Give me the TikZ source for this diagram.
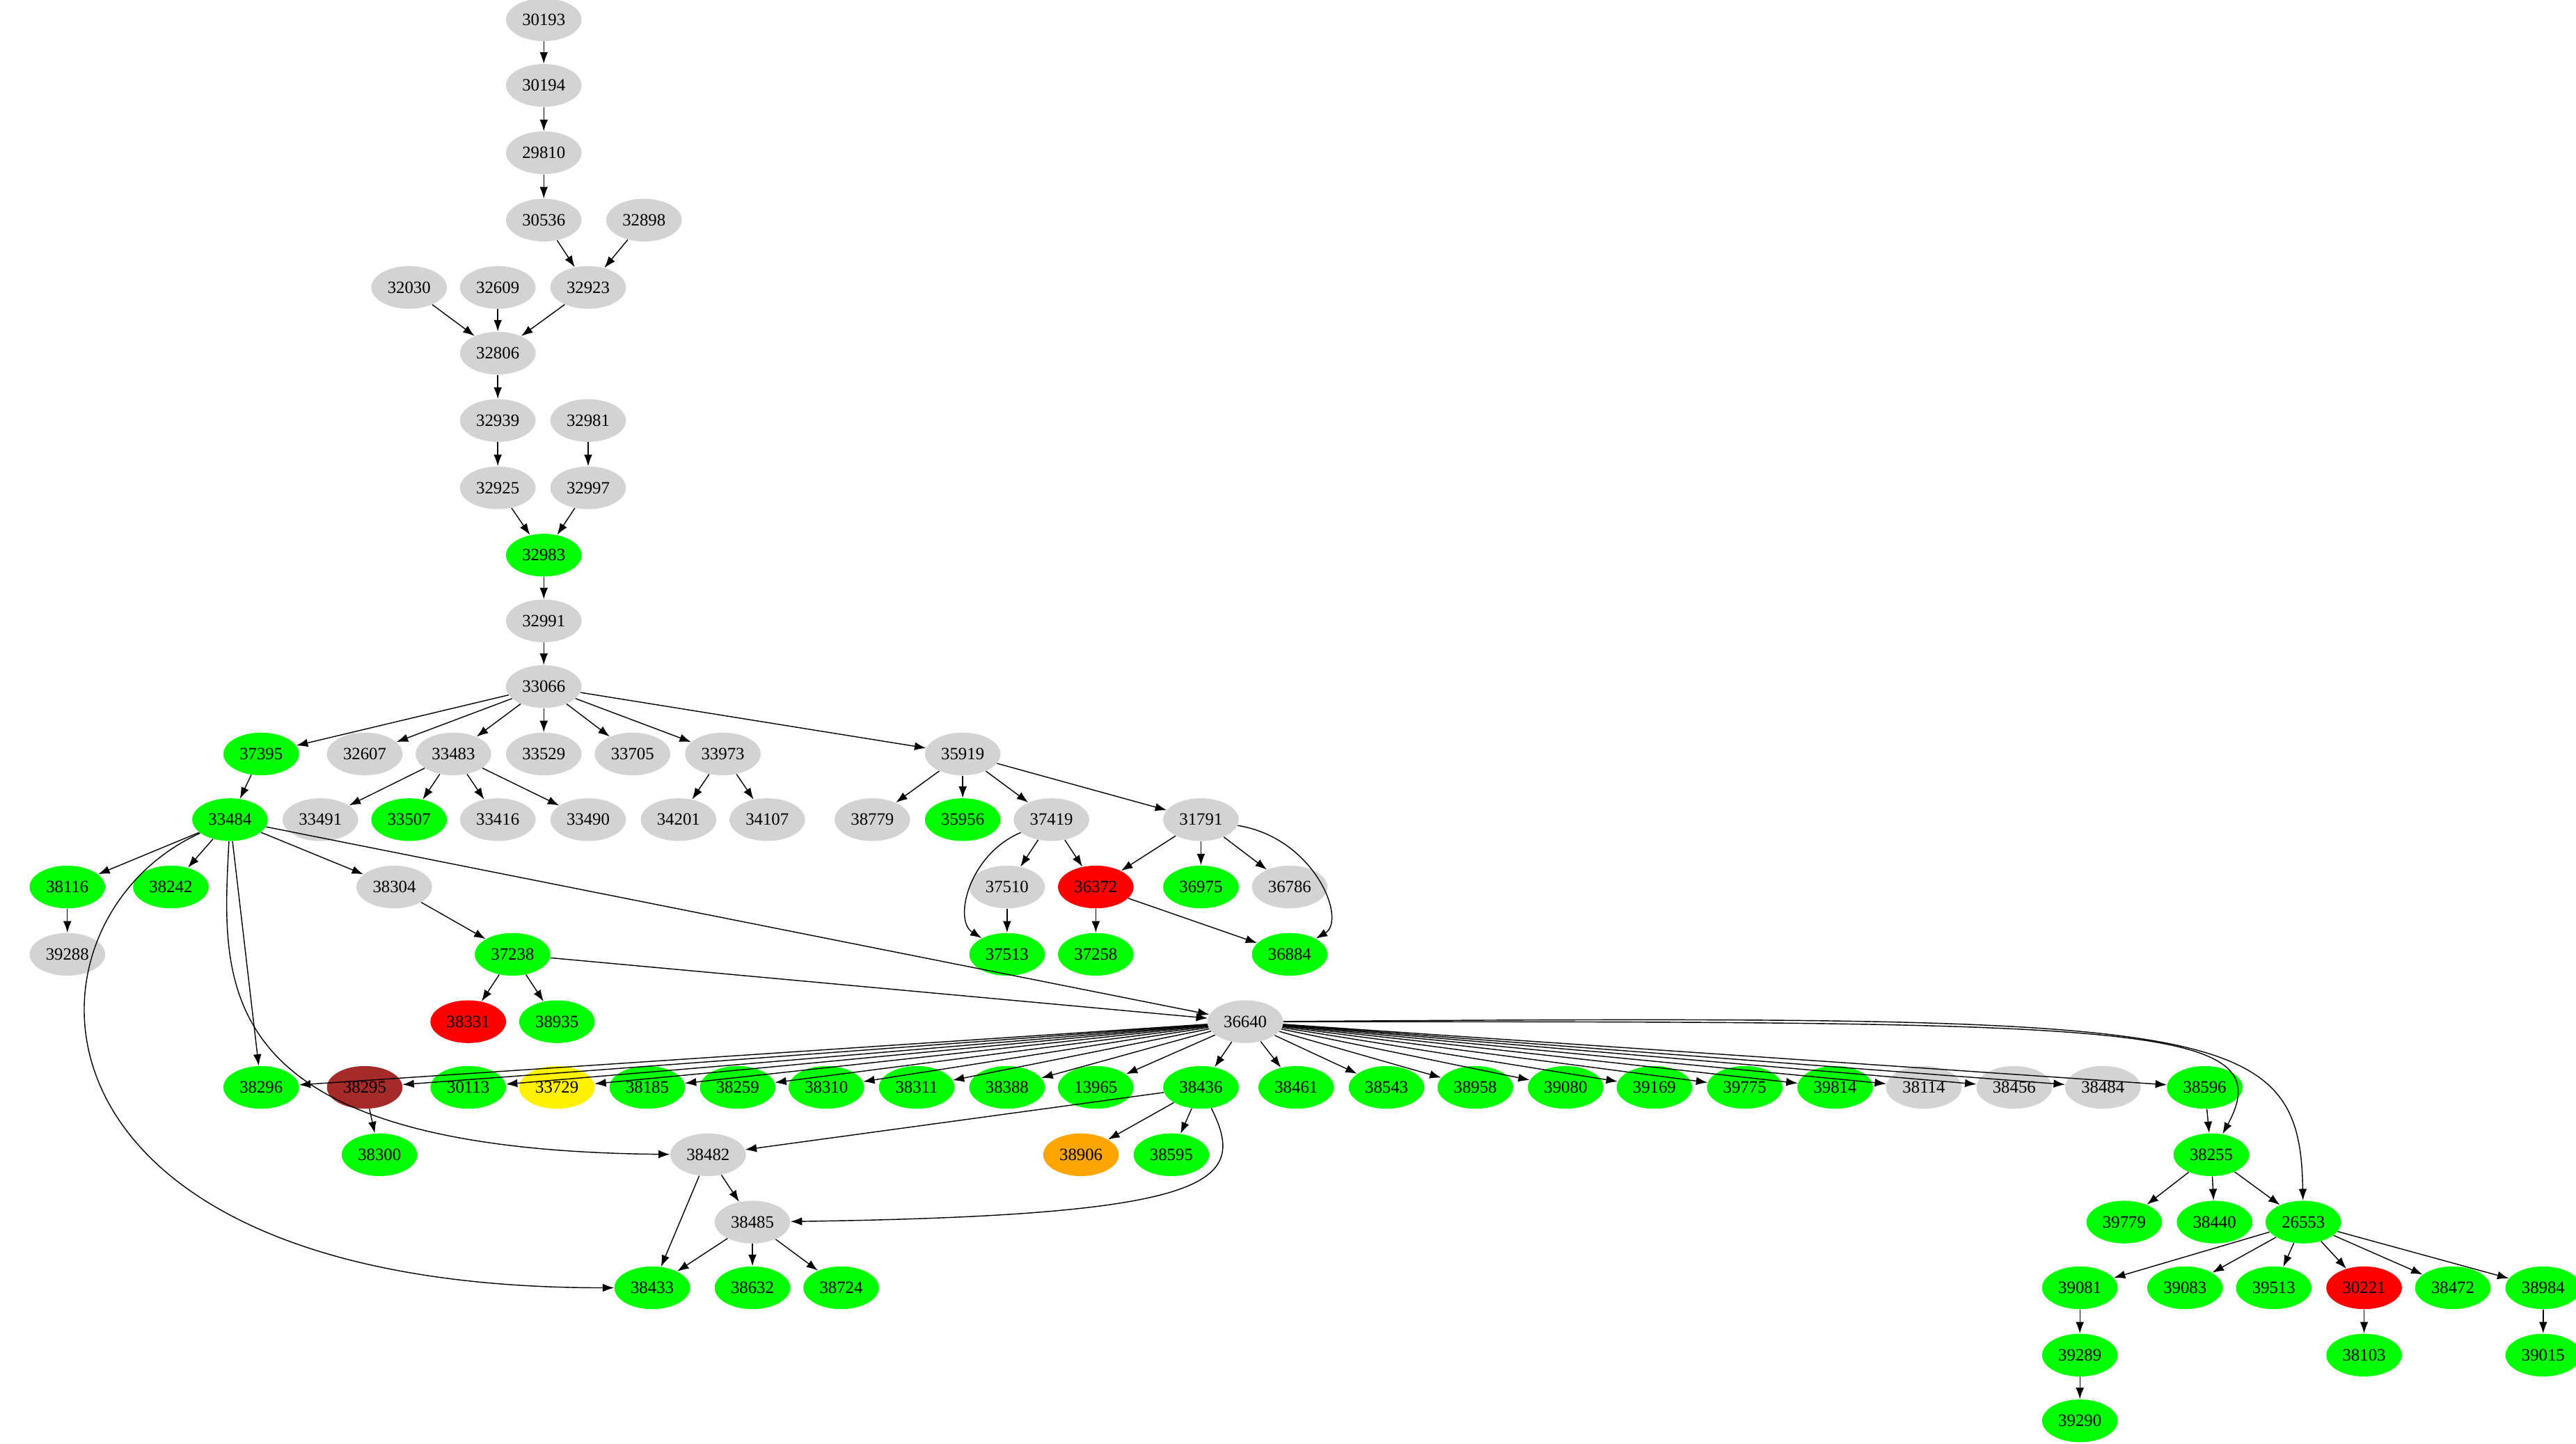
\documentclass[tikz,border=0pt]{standalone}
\usepackage{fontspec}
\setmainfont{Liberation Serif}
\usetikzlibrary{shapes.geometric,arrows.meta}
\definecolor{ggray}{RGB}{211,211,211}
\definecolor{ggreen}{RGB}{0,255,0}
\definecolor{gbrown}{RGB}{165,42,42}
\definecolor{gorange}{RGB}{255,165,0}
\tikzset{
 nd/.style={ellipse,fill=ggray,minimum width=46pt,minimum height=26pt,inner sep=0pt,font=\fontsize{10.5}{12}\selectfont},
 gr/.style={nd,fill=ggreen}, rd/.style={nd,fill=red}, br/.style={nd,fill=gbrown},
 yl/.style={nd,fill=yellow}, og/.style={nd,fill=gorange},
 ed/.style={-{Latex[length=7pt,width=5pt]},line width=0.6pt}
}
\begin{document}
\begin{tikzpicture}[x=1pt,y=-1pt]
\useasboundingbox (0,0) rectangle (1568,879);
\foreach \n/\x/\y/\s in {30193/331/12/nd,30194/331/52/nd,29810/331/93/nd,30536/331/134/nd,32898/392/134/nd,
32030/249/175/nd,32609/303/175/nd,32923/358/175/nd,32806/303/215/nd,32939/303/256/nd,32981/358/256/nd,
32925/303/297/nd,32997/358/297/nd,32983/331/338/gr,32991/331/378/nd,33066/331/418/nd,
37395/159/459/gr,32607/222/459/nd,33483/276/459/nd,33529/331/459/nd,33705/385/459/nd,33973/440/459/nd,35919/586/459/nd,
33484/140/499/gr,33491/195/499/nd,33507/249/499/gr,33416/303/499/nd,33490/358/499/nd,34201/413/499/nd,34107/467/499/nd,38779/531/499/nd,35956/586/499/gr,37419/640/499/nd,31791/731/499/nd,
38116/41/540/gr,38242/104/540/gr,38304/240/540/nd,37510/613/540/nd,36372/667/540/rd,36975/731/540/gr,36786/785/540/nd,
39288/41/581/nd,37238/312/581/gr,37513/613/581/gr,37258/667/581/gr,36884/785/581/gr,
38331/285/622/rd,38935/339/622/gr,36640/758/622/nd,
38296/159/662/gr,38295/222/662/br,30113/285/662/gr,33729/339/662/yl,38185/394/662/gr,38259/449/662/gr,38310/503/662/gr,38311/558/662/gr,38388/613/662/gr,13965/667/662/gr,38436/731/662/gr,38461/789/662/gr,38543/844/662/gr,38958/898/662/gr,39080/953/662/gr,39169/1007/662/gr,39775/1062/662/gr,39814/1117/662/gr,38114/1171/662/nd,38456/1226/662/nd,38484/1280/662/nd,38596/1342/662/gr,
38300/231/703/gr,38482/431/703/nd,38906/658/703/og,38595/713/703/gr,38255/1346/703/gr,
38485/458/744/nd,39779/1293/744/gr,38440/1348/744/gr,26553/1402/744/gr,
38433/397/784/gr,38632/458/784/gr,38724/512/784/gr,39081/1266/784/gr,39083/1330/784/gr,39513/1384/784/gr,30221/1439/784/rd,38472/1493/784/gr,38984/1548/784/gr,
39289/1266/825/gr,38103/1439/825/gr,39015/1548/825/gr,39290/1266/865/gr}
 \node[\s] (n\n) at (\x,\y) {\n};
\foreach \a/\b in {30193/30194,30194/29810,29810/30536,30536/32923,32898/32923,32030/32806,32609/32806,32923/32806,
32806/32939,32939/32925,32925/32983,32981/32997,32997/32983,32983/32991,32991/33066,
33066/37395,33066/32607,33066/33483,33066/33529,33066/33705,33066/33973,33066/35919,37395/33484,
33483/33491,33483/33507,33483/33416,33483/33490,33973/34201,33973/34107,
35919/38779,35919/35956,35919/37419,35919/31791,
33484/38116,33484/38242,33484/38304,33484/36640,33484/38296,38116/39288,38304/37238,
37419/37510,37419/36372,37510/37513,31791/36372,31791/36975,31791/36786,36372/37258,36372/36884,
37238/38331,37238/38935,37238/36640,
36640/38296,36640/38295,36640/30113,36640/33729,36640/38185,36640/38259,36640/38310,36640/38311,36640/38388,36640/13965,36640/38436,36640/38461,36640/38543,36640/38958,36640/39080,36640/39169,36640/39775,36640/39814,36640/38114,36640/38456,36640/38484,36640/38596,
38295/38300,38436/38482,38436/38906,38436/38595,38482/38485,38482/38433,38485/38433,38485/38632,38485/38724,
38596/38255,38255/39779,38255/38440,38255/26553,
26553/39081,26553/39083,26553/39513,26553/30221,26553/38472,26553/38984,39081/39289,39289/39290,30221/38103,38984/39015}
 \draw[ed] (n\a) -- (n\b);
\draw[ed] (n33484) .. controls (5,560) and (0,784) .. (n38433);
\draw[ed] (n33484) .. controls (135,600) and (125,700) .. (n38482);
\draw[ed] (n37419) .. controls (590,520) and (580,560) .. (n37513);
\draw[ed] (n31791) .. controls (800,510) and (820,560) .. (n36884);
\draw[ed] (n38436) .. controls (760,720) and (740,740) .. (n38485);
\draw[ed] (n36640) .. controls (1300,622) and (1390,622) .. (n38255);
\draw[ed] (n36640) .. controls (1350,618) and (1400,620) .. (n26553);
\end{tikzpicture}
\end{document}
